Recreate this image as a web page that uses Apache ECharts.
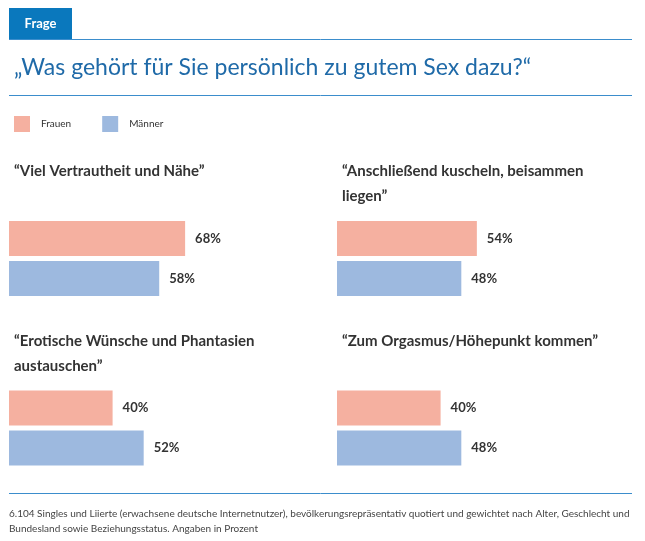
<!DOCTYPE html>
<html>
<head>
<meta charset="utf-8">
<script src="https://cdn.jsdelivr.net/npm/echarts@6/dist/echarts.min.js"></script>
<style>
html,body{margin:0;padding:0;background:#fff;}
#main{width:645px;height:541px;}
</style>
</head>
<body>
<div id="main"></div>
<script>
var questions = [
  '“Viel Vertrautheit und Nähe”',
  '“Anschließend kuscheln, beisammen\nliegen”',
  '“Erotische Wünsche und Phantasien\naustauschen”',
  '“Zum Orgasmus/Höhepunkt kommen”'
];
var seriesNames = ['Frauen', 'Männer'];
var frauen = [68, 54, 40, 40];
var maenner = [58, 48, 52, 48];
var headerTag = 'Frage';
var mainTitle = '„Was gehört für Sie persönlich zu gutem Sex dazu?“';
var footnote = '6.104 Singles und Liierte (erwachsene deutsche Internetnutzer), bevölkerungsrepräsentativ quotiert und gewichtet nach Alter, Geschlecht und\nBundesland sowie Beziehungsstatus. Angaben in Prozent';

var FONT = 'Lato';
var pink = '#f5b0a0';
var blue = '#9db9df';
var lineBlue = '#3b8dcc';

var panelLeft = [9, 337, 9, 337];
var panelTitleTop = [153.5, 153.5, 323.5, 323.5];
var gridTop = [218.5, 218.5, 388, 388];

var grids = [], xAxes = [], yAxes = [], series = [], titles = [];
titles.push({
  text: mainTitle, left: 9, top: 51,
  textStyle: {fontFamily: FONT, fontSize: 23, fontWeight: 'normal', color: '#1f6aa8'}
});
for (var i = 0; i < 4; i++) {
  grids.push({left: panelLeft[i], top: gridTop[i], width: 259, height: 80, containLabel: false});
  xAxes.push({type: 'value', gridIndex: i, min: 0, max: 100, show: false});
  yAxes.push({type: 'category', gridIndex: i, data: [questions[i]], inverse: true, show: false});
  titles.push({
    text: questions[i], left: panelLeft[i], top: panelTitleTop[i],
    textStyle: {fontFamily: FONT, fontSize: 15, fontWeight: 'bold', color: '#333', lineHeight: 25}
  });
  var vals = [frauen[i], maenner[i]];
  var cols = [pink, blue];
  for (var s = 0; s < 2; s++) {
    series.push({
      type: 'bar', name: seriesNames[s], xAxisIndex: i, yAxisIndex: i,
      data: [vals[s]], barWidth: 35, barGap: '14%',
      itemStyle: {color: cols[s]},
      label: {show: true, position: 'right', distance: 10, formatter: '{c}%',
        fontFamily: FONT, fontSize: 13, fontWeight: 'bold', color: '#333'},
      silent: true, animation: false
    });
  }
}

var option = {
  backgroundColor: '#fff',
  animation: false,
  title: titles,
  legend: {
    data: seriesNames, left: 9, top: 111, icon: 'rect', itemWidth: 16, itemHeight: 16,
    itemGap: 31, selectedMode: false,
    textStyle: {fontFamily: FONT, fontSize: 10, color: '#333', padding: [0, 0, 0, 6]}
  },
  grid: grids, xAxis: xAxes, yAxis: yAxes, series: series,
  graphic: [
    {type: 'rect', shape: {x: 9, y: 8, width: 63, height: 31}, style: {fill: '#0a78bd'}},
    {type: 'text', x: 40.5, y: 23.5, style: {text: headerTag, fill: '#fff', font: 'bold 13px ' + FONT, textAlign: 'center', textVerticalAlign: 'middle'}},
    {type: 'line', shape: {x1: 9, y1: 39.5, x2: 632, y2: 39.5}, style: {stroke: lineBlue, lineWidth: 1}},
    {type: 'line', shape: {x1: 9, y1: 95.5, x2: 632, y2: 95.5}, style: {stroke: lineBlue, lineWidth: 1}},
    {type: 'line', shape: {x1: 9, y1: 493.5, x2: 632, y2: 493.5}, style: {stroke: lineBlue, lineWidth: 1}},
    {type: 'text', x: 9, y: 506, style: {text: footnote, fill: '#444', font: '10px ' + FONT, lineHeight: 15}}
  ]
};
var chart = echarts.init(document.getElementById('main'), null, {renderer: 'canvas'});
chart.setOption(option);
</script>
</body>
</html>
